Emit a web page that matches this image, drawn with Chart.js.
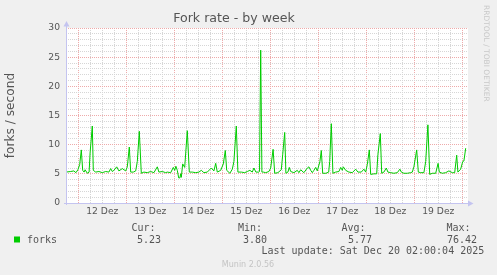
<!DOCTYPE html>
<html>
<head>
<meta charset="utf-8">
<script src="https://cdn.jsdelivr.net/npm/chart.js@4"></script>
<style>
  html, body { margin: 0; padding: 0; background: #f0f0f0; }
  canvas { display: block; }
</style>
</head>
<body>
<canvas id="forkChart" width="497" height="275"></canvas>
<script>
// hours since Dez 12 00:00 and the matching fork rate
const hours = [
  -6.15, -3.8, -2.2, -1.2, -0.2, 0.7, 1.5, 2.2, 2.9, 3.4, 4.5, 5.4, 5.9, 7.0, 7.5, 8.7, 10.3, 12, 13.7, 15.3,
  16.2, 17, 17.8, 19.2, 20.3, 22, 23.7, 24.5, 25.5, 26.2, 27.5, 28.7, 29.5, 30.5, 31.5, 32.8, 34.5, 36.2, 37.8, 39.5,
  40.3, 42, 43.7, 44.5, 46.2, 47.5, 48.2, 48.8, 49.5, 50.2, 50.8, 51.2, 51.5, 52.2, 53.2, 54.5, 55.5, 57, 58.7, 60.3,
  61.5, 62.8, 64.5, 66.5, 67.8, 68.7, 69.5, 71.2, 72.5, 73.5, 74.2, 75.8, 77, 77.8, 79, 79.8, 81.5, 83.2, 84.5, 85.8,
  87, 87.8, 88.8, 90.2, 90.6, 91.2, 91.8, 92.5, 93.7, 95.3, 96.2, 97.4, 98.2, 99.8, 101.5, 102.2, 103.2, 103.8, 104.8, 105.5,
  106.2, 107.8, 109.5, 110.3, 111.2, 112.8, 114.5, 115.3, 116.2, 117, 117.8, 118.7, 119.5, 120.8, 121.5, 122.2, 123.8, 125.2, 125.7, 126.5,
  127.3, 128.7, 130.3, 131.2, 132, 132.5, 133.7, 135.3, 137, 138.7, 139.8, 141.5, 142.8, 143.7, 144.5, 145.5, 146.2, 147.8, 149.2, 149.8,
  151, 151.7, 152.8, 154, 154.8, 156.2, 157.8, 159.5, 160.8, 161.5, 162.8, 164.5, 166.2, 167, 167.8, 169.2, 170, 171.2, 172.8, 173.7,
  174.8, 175.7, 177, 178.7, 179.9, 180.5, 182, 183.7, 185.3, 187, 188.2, 189.2, 189.8, 191.2, 192.2, 192.8, 193.7
];
const forks = [
  5.3, 5.4, 5.5, 5.2, 5.7, 6.6, 9.1, 5.6, 5.3, 5.7, 5.1, 5.3, 8.6, 13.2, 5.6, 5.3, 5.4, 5.2, 5.4, 5.3,
  5.9, 5.4, 5.6, 6.2, 5.5, 5.9, 5.5, 6.2, 9.6, 5.3, 5.3, 5.5, 7.1, 12.3, 5.1, 5.3, 5.2, 5.4, 5.2, 6.2,
  5.3, 5.4, 5.2, 5.3, 5.2, 6.1, 5.6, 6.3, 5.6, 4.3, 4.3, 5.0, 4.4, 6.7, 6.1, 12.4, 5.3, 5.3, 5.2, 5.3,
  5.6, 5.2, 5.3, 6.0, 5.5, 6.8, 5.3, 5.6, 6.7, 9.0, 5.6, 5.1, 5.8, 7.1, 13.2, 5.3, 5.3, 5.2, 5.4, 5.6,
  5.3, 6.0, 5.3, 5.3, 5.4, 26.2, 5.3, 5.3, 5.2, 5.4, 6.0, 9.2, 5.1, 5.2, 5.7, 8.3, 12.1, 5.1, 5.3, 6.1,
  5.4, 5.2, 5.6, 5.2, 5.7, 5.2, 6.0, 6.2, 5.6, 5.2, 5.6, 6.1, 5.5, 7.1, 9.0, 5.1, 5.1, 5.3, 7.1, 13.6,
  5.1, 5.3, 5.4, 6.1, 5.6, 6.2, 5.6, 5.3, 5.2, 5.8, 5.3, 5.3, 5.8, 5.3, 6.6, 9.1, 4.9, 5.0, 5.0, 8.3,
  11.9, 5.1, 5.3, 6.0, 5.3, 5.2, 5.1, 5.2, 5.8, 5.3, 5.1, 5.1, 5.2, 5.3, 6.2, 9.1, 5.3, 5.2, 5.2, 7.1,
  13.4, 4.9, 5.1, 5.1, 6.8, 5.3, 5.1, 5.2, 5.5, 5.2, 5.2, 8.2, 5.3, 5.8, 7.1, 7.2, 9.4
];
const dayLabels = ['12 Dez', '13 Dez', '14 Dez', '15 Dez', '16 Dez', '17 Dez', '18 Dez', '19 Dez'];
const yTicks = [0, 5, 10, 15, 20, 25, 30];
const statNames = ['Cur:', 'Min:', 'Avg:', 'Max:'];
const statValues = ['5.23', '3.80', '5.77', '76.42'];

const textColor = '#555555';
const axisColor = '#c4c4f0';
const majorGrid = '#eeaaaa';
const minorGrid = '#d6d6d6';

Chart.defaults.font.family = 'DejaVu Sans';
Chart.defaults.color = textColor;

const muninDecor = {
    id: 'muninDecor',
    beforeDraw(chart) {
        const a = chart.chartArea;
        const ctx = chart.ctx;
        ctx.save();
        ctx.fillStyle = '#ffffff';
        ctx.fillRect(a.left, a.top, a.right - a.left, a.bottom - a.top);
        ctx.restore();
    },
    afterDraw(chart) {
        const a = chart.chartArea;
        const ctx = chart.ctx;
        ctx.save();
        // axes with arrows
        ctx.strokeStyle = axisColor;
        ctx.fillStyle = axisColor;
        ctx.lineWidth = 1;
        ctx.beginPath();
        ctx.moveTo(a.left + 0.5, a.bottom + 2);
        ctx.lineTo(a.left + 0.5, a.top - 4);
        ctx.moveTo(a.left - 2, a.bottom + 0.5);
        ctx.lineTo(a.right + 2, a.bottom + 0.5);
        ctx.stroke();
        ctx.beginPath();
        ctx.moveTo(a.left + 0.5, a.top - 7);
        ctx.lineTo(a.left - 2.5, a.top - 1.5);
        ctx.lineTo(a.left + 3.5, a.top - 1.5);
        ctx.closePath();
        ctx.fill();
        ctx.beginPath();
        ctx.moveTo(a.right + 5.5, a.bottom + 0.5);
        ctx.lineTo(a.right, a.bottom - 2.5);
        ctx.lineTo(a.right, a.bottom + 3.5);
        ctx.closePath();
        ctx.fill();

        // vertical credit on the right
        ctx.save();
        ctx.translate(486, 5);
        ctx.rotate(Math.PI / 2);
        ctx.font = '7.5px "DejaVu Sans"';
        ctx.fillStyle = '#c8c8c8';
        ctx.textBaseline = 'middle';
        ctx.textAlign = 'left';
        ctx.fillText('RRDTOOL / TOBI OETIKER', 0, 0);
        ctx.restore();

        // legend
        ctx.font = '10px "DejaVu Sans Mono"';
        ctx.textBaseline = 'middle';
        ctx.textAlign = 'left';
        ctx.fillStyle = '#00cc00';
        ctx.fillRect(14, 236.5, 6, 6);
        ctx.fillStyle = textColor;
        ctx.fillText('forks', 27, 240);
        const nameX = [131.5, 238, 341.5, 446.5];
        const valX = [137, 243, 348, 447];
        statNames.forEach((n, i) => ctx.fillText(n, nameX[i], 228));
        statValues.forEach((v, i) => ctx.fillText(v, valX[i], 240));
        ctx.fillText('Last update: Sat Dec 20 02:00:04 2025', 261.5, 251.5);

        ctx.font = '8px "DejaVu Sans"';
        ctx.fillStyle = '#c4c4c4';
        ctx.textAlign = 'center';
        ctx.fillText('Munin 2.0.56', 248, 264.5);
        ctx.restore();
    }
};

new Chart(document.getElementById('forkChart'), {
    type: 'line',
    data: {
        datasets: [{
            label: 'forks',
            data: hours.map((h, i) => ({ x: h, y: forks[i] })),
            borderColor: '#00cc00',
            borderWidth: 1,
            pointRadius: 0,
            tension: 0,
            fill: false
        }]
    },
    options: {
        responsive: false,
        animation: false,
        layout: { padding: { left: 0, right: 29, top: 0, bottom: 0 } },
        plugins: {
            legend: { display: false },
            tooltip: { enabled: false },
            title: {
                display: true,
                text: 'Fork rate - by week',
                color: textColor,
                font: { size: 12.6, weight: 'normal' },
                padding: { top: 11.4, bottom: 1.5 }
            }
        },
        scales: {
            x: {
                type: 'linear',
                min: -6.15,
                max: 194.85,
                afterFit: s => { s.height = 72; },
                border: { display: false, dash: [1, 1] },
                grid: {
                    drawTicks: false,
                    lineWidth: 1,
                    color: c => (c.tick && c.tick.value % 24 === 0) ? majorGrid : minorGrid
                },
                ticks: {
                    stepSize: 6,
                    includeBounds: false,
                    autoSkip: false,
                    maxRotation: 0,
                    padding: 3.5,
                    color: textColor,
                    font: { size: 9.2 },
                    callback: v => (v % 24 === 12) ? (dayLabels[(v - 12) / 24] || '') : ''
                }
            },
            y: {
                min: 0,
                max: 30,
                afterFit: s => { s.width = 66; },
                border: { display: false, dash: [1, 1] },
                grid: {
                    drawTicks: false,
                    lineWidth: 1,
                    color: c => (c.tick && c.tick.value % 5 === 0) ? majorGrid : minorGrid
                },
                title: {
                    display: true,
                    text: 'forks / second',
                    color: textColor,
                    font: { size: 12.2 },
                    padding: { top: 3.3, bottom: 0 }
                },
                ticks: {
                    stepSize: 1,
                    autoSkip: false,
                    padding: 6,
                    color: textColor,
                    font: { size: 9.2 },
                    callback: v => yTicks.includes(v) ? String(v) : ''
                }
            }
        }
    },
    plugins: [muninDecor]
});
</script>
</body>
</html>
